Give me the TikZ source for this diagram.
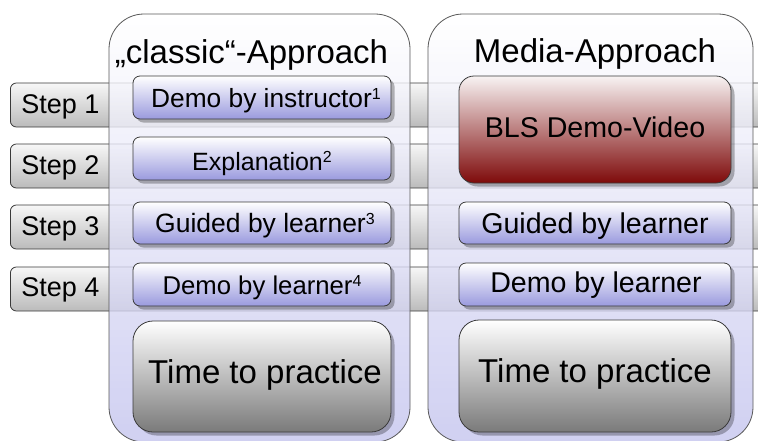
\documentclass[tikz,border=0pt]{standalone}
\usepackage{fontspec}
\setmainfont{Liberation Sans}
\usetikzlibrary{shadows}
\definecolor{lav}{HTML}{C4C4EE}
\definecolor{boxblue}{HTML}{9A9ADE}
\definecolor{darkred}{HTML}{7E0A0A}
\definecolor{redtop}{HTML}{F8F3F3}
\definecolor{graybot}{HTML}{7A7A7A}
\definecolor{bartop}{HTML}{F7F7F7}
\definecolor{barbot}{HTML}{BBBBBB}
\definecolor{edge}{HTML}{3A3A3A}
\newcommand{\supn}[1]{\raisebox{0.3em}{\fontsize{16}{16}\selectfont #1}}
\begin{document}
\begin{tikzpicture}[x=1pt,y=-1pt,
  stepbar/.style={draw=edge, line width=0.8pt, rounded corners=6pt, top color=bartop, bottom color=barbot, minimum height=44pt, minimum width=800pt, inner sep=0pt, anchor=west},
  steplabel/.style={font=\fontsize{27}{32}\selectfont, inner sep=0pt, anchor=base},
  col/.style={draw=edge!85, line width=0.8pt, rounded corners=35pt, top color=white, bottom color=lav, fill opacity=0.8, minimum height=428pt, inner sep=0pt},
  title/.style={font=\fontsize{33}{38}\selectfont, inner sep=0pt, anchor=base},
  shad/.style={drop shadow={shadow xshift=3.5pt, shadow yshift=-3.5pt, fill=black, opacity=0.28}},
  bluebox/.style={draw=edge, line width=0.8pt, rounded corners=7pt, top color=white, bottom color=boxblue, inner sep=0pt, shad},
  redbox/.style={draw=edge, line width=0.8pt, rounded corners=15pt, top color=redtop, bottom color=darkred, inner sep=0pt, shad},
  graybox/.style={draw=edge, line width=0.8pt, rounded corners=20pt, top color=white, bottom color=graybot, inner sep=0pt, shad},
  txtA/.style={inner sep=0pt, anchor=base},
  txtB/.style={font=\fontsize{28.6}{34}\selectfont, inner sep=0pt, anchor=base},
  txtC/.style={font=\fontsize{33}{38}\selectfont, inner sep=0pt, anchor=base}
]
\useasboundingbox (0,0) rectangle (758,440);
\clip (0,0) rectangle (758,440);

% step bars
\node[stepbar] (bar1) at (10,105) {};
\node[stepbar] (bar2) at (10,166) {};
\node[stepbar] (bar3) at (10,227) {};
\node[stepbar] (bar4) at (10,289) {};
\node[steplabel] (s1) at (60.5,113.3) {Step 1};
\node[steplabel] (s2) at (60.5,174) {Step 2};
\node[steplabel] (s3) at (60.5,235) {Step 3};
\node[steplabel] (s4) at (60.5,296) {Step 4};

% columns
\node[col, minimum width=301pt] (colA) at (259.5,228) {};
\node[col, minimum width=325pt] (colB) at (590.5,228) {};
\node[title] (tA) at (251.5,63) {„classic“-Approach};
\node[title] (tB) at (595,62) {Media-Approach};

% classic boxes
\node[bluebox, minimum width=258pt, minimum height=43pt] (a1) at (262,97.5) {};
\node[bluebox, minimum width=258pt, minimum height=43pt] (a2) at (262,158.5) {};
\node[bluebox, minimum width=258pt, minimum height=42pt] (a3) at (262,223) {};
\node[bluebox, minimum width=258pt, minimum height=43pt] (a4) at (262,284.5) {};
\node[graybox, minimum width=258pt, minimum height=111pt] (a5) at (262,376.5) {};
\node[txtA, font=\fontsize{26.3}{31}\selectfont] (ta1) at (266,107.3) {Demo by instructor\supn{1}};
\node[txtA, font=\fontsize{25}{30}\selectfont] (ta2) at (262,170) {Explanation\supn{2}};
\node[txtA, font=\fontsize{26.5}{31}\selectfont] (ta3) at (265,232.5) {Guided by learner\supn{3}};
\node[txtA, font=\fontsize{25.7}{30}\selectfont] (ta4) at (262,294) {Demo by learner\supn{4}};
\node[txtC] (ta5) at (265,383.3) {Time to practice};

% media boxes
\node[redbox, minimum width=272pt, minimum height=107pt] (b1) at (595,129.5) {};
\node[bluebox, minimum width=272pt, minimum height=42pt] (b3) at (595,223) {};
\node[bluebox, minimum width=272pt, minimum height=43pt] (b4) at (595,284.5) {};
\node[graybox, minimum width=272pt, minimum height=112pt] (b5) at (595,376) {};
\node[txtB] (tb1) at (595,137.3) {BLS Demo-Video};
\node[txtB] (tb3) at (595,233.3) {Guided by learner};
\node[txtB] (tb4) at (596,292.7) {Demo by learner};
\node[txtC] (tb5) at (595,382.7) {Time to practice};
\end{tikzpicture}
\end{document}
